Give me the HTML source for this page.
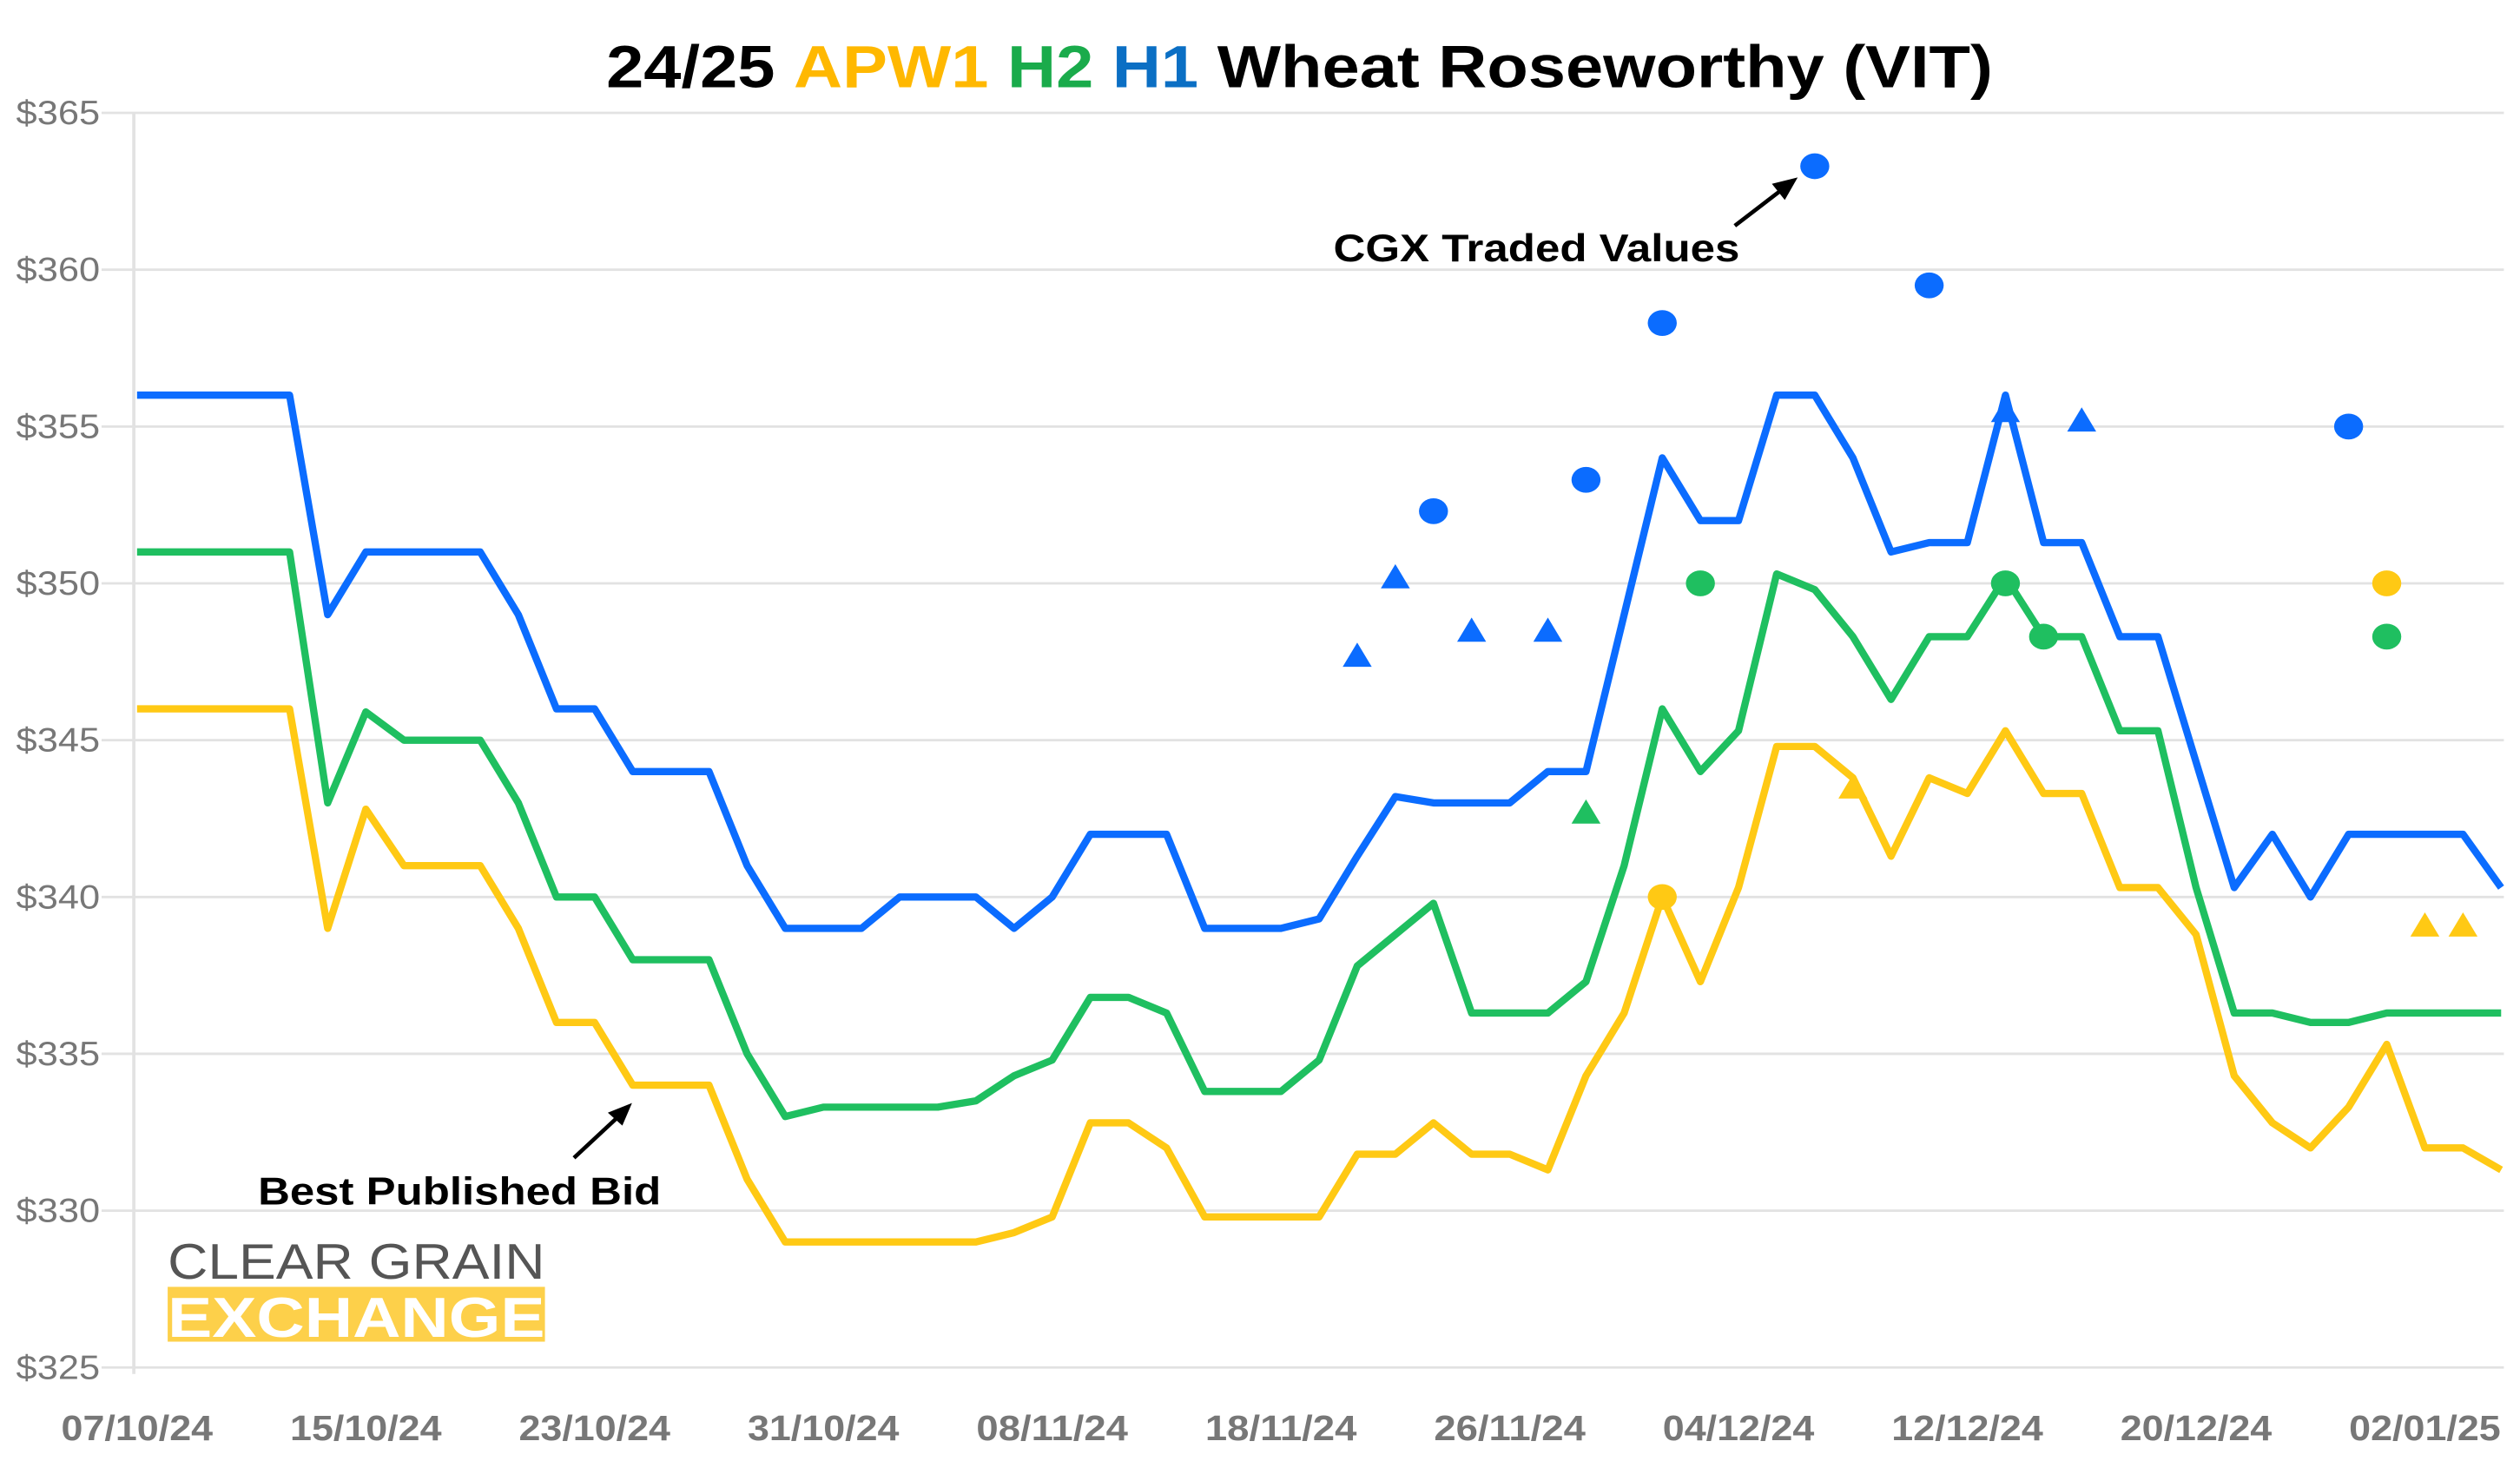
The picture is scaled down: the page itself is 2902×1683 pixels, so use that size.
<!DOCTYPE html>
<html><head><meta charset="utf-8"><style>
html,body{margin:0;padding:0;background:#fff;}
svg{display:block;}
</style></head><body>
<svg id="chart" width="2902" height="1683" viewBox="0 0 1563 906" preserveAspectRatio="none" xmlns="http://www.w3.org/2000/svg" font-family="'Liberation Sans', sans-serif">
<rect x="0" y="0" width="1563" height="906" fill="#fff"/>
<text x="806" y="54" text-anchor="middle" font-size="37" font-weight="bold" fill="#000" textLength="860" lengthAdjust="spacingAndGlyphs">24/25 <tspan fill="#ffb800">APW1</tspan> <tspan fill="#1aab4b">H2</tspan> <tspan fill="#0b6fc4">H1</tspan> Wheat Roseworthy (VIT)</text>
<g id="grid"></g>
<g id="yaxis"></g>
<g id="xaxis"></g>
<g id="series"></g>
<g id="markers"></g>
<g>
<text x="104" y="793" font-size="31" fill="#555" textLength="234" lengthAdjust="spacingAndGlyphs">CLEAR GRAIN</text>
<rect x="104" y="798" width="234" height="34" fill="#fdd04a"/>
<text x="104" y="829" font-size="35" font-weight="bold" fill="#fff" textLength="234" lengthAdjust="spacingAndGlyphs">EXCHANGE</text>
</g>
<g>
<text x="160" y="747" font-size="24" font-weight="bold" fill="#000" textLength="250" lengthAdjust="spacingAndGlyphs">Best Published Bid</text>
<line x1="356" y1="718" x2="384" y2="692" stroke="#000" stroke-width="2.5"/>
<polygon points="392,684 377,690 386,698" fill="#000"/>
</g>
<g>
<text x="827" y="162" font-size="24" font-weight="bold" fill="#000" textLength="252" lengthAdjust="spacingAndGlyphs">CGX Traded Values</text>
<line x1="1076" y1="140" x2="1106" y2="117" stroke="#000" stroke-width="2.5"/>
<polygon points="1115,110 1099,114 1107,124" fill="#000"/>
</g>
</svg>
<script>
const yTicks = [325,330,335,340,345,350,355,360,365];
const xLabels = ["07/10/24","15/10/24","23/10/24","31/10/24","08/11/24","18/11/24","26/11/24","04/12/24","12/12/24","20/12/24","02/01/25"];
const h1 = [356,356,356,356,356,349,351,351,351,351,349,346,346,344,344,344,341,339,339,339,340,340,340,339,340,342,342,342,339,339,339,339.3,341.3,343.2,343,343,343,344,344,349,354,352,352,356,356,354,351,351.3,351.3,356,351.3,351.3,348.3,348.3,344.3,340.3,342,340,342,342,342,342,340.3];
const h2 = [351,351,351,351,351,343,345.9,345,345,345,343,340,340,338,338,338,335,333,333.3,333.3,333.3,333.3,333.5,334.3,334.8,336.8,336.8,336.3,333.8,333.8,333.8,334.8,337.8,338.8,339.8,336.3,336.3,336.3,337.3,341,346,344,345.3,350.3,349.8,348.3,346.3,348.3,348.3,350.2,348.3,348.3,345.3,345.3,340.3,336.3,336.3,336,336,336.3,336.3,336.3,336.3];
const apw1 = [346,346,346,346,346,339,342.8,341,341,341,339,336,336,334,334,334,331,329,329,329,329,329,329,329.3,329.8,332.8,332.8,332,329.8,329.8,329.8,329.8,331.8,331.8,332.8,331.8,331.8,331.3,334.3,336.3,340,337.3,340.3,344.8,344.8,343.8,341.3,343.8,343.3,345.3,343.3,343.3,340.3,340.3,338.8,334.3,332.8,332,333.3,335.3,332,332,331.3];
const h1CircleIdx = [34,38,40,44,47,58];
const h1CircleVal = [352.3,353.3,358.3,363.3,359.5,355];
const h1TriIdx = [32,33,35,37,49,51];
const h1TriVal = [347.7,350.2,348.5,348.5,355.5,355.2];
const h2CircleIdx = [41,49,50,59];
const h2CircleVal = [350,350,348.3,348.3];
const h2TriIdx = [38];
const h2TriVal = [342.7];
const apwCircleIdx = [40,59];
const apwCircleVal = [340,350];
const apwTriIdx = [45,60,61];
const apwTriVal = [343.5,339.1,339.1];

const NS="http://www.w3.org/2000/svg";
const X0=85, DX=23.65, Y365=70, Y325=848, PL=83, PR=1553;
const xs = i => X0 + i*DX;
const ys = v => Y365 + (365-v)*(Y325-Y365)/40;
function mk(tag, attrs, parent){const e=document.createElementNS(NS,tag);for(const k in attrs)e.setAttribute(k,attrs[k]);parent.appendChild(e);return e;}
const grid=document.getElementById('grid'), ya=document.getElementById('yaxis'), xa=document.getElementById('xaxis');
yTicks.forEach(t=>{
  const l=mk('line',{x1:PL-20,x2:PR,y1:ys(t),y2:ys(t),stroke:'#e2e2e2','stroke-width':1.5},grid);
  
  
  const tx=mk('text',{x:62,y:ys(t)+7,'text-anchor':'end','font-size':21,fill:'#777',textLength:52,lengthAdjust:'spacingAndGlyphs'},ya);
  tx.textContent='$'+t;
  
  
});
const ax=mk('line',{x1:PL,x2:PL,y1:Y365,y2:Y325+4,stroke:'#e2e2e2','stroke-width':2},grid);


xLabels.forEach((lab,k)=>{
  const tx=mk('text',{x:xs(k*6),y:893,'text-anchor':'middle','font-size':22,fill:'#777','font-weight':'bold',textLength:94,lengthAdjust:'spacingAndGlyphs'},xa);
  tx.textContent=lab;
  
  
});
const ser=document.getElementById('series');
[[apw1,'#ffc914','apw1-line'],[h2,'#1fbf60','h2-line'],[h1,'#0b6cff','h1-line']].forEach(([d,c,n])=>{
  const p=mk('polyline',{points:d.map((v,i)=>xs(i)+','+ys(v)).join(' '),fill:'none',stroke:c,'stroke-width':4.5,'stroke-linejoin':'round'},ser);
  
  
});
const mg=document.getElementById('markers');
function circles(idx,val,c,n){idx.forEach((i,k)=>{const e=mk('ellipse',{cx:xs(i),cy:ys(val[k]),rx:9,ry:8,fill:c},mg);
  
  });}
function tris(idx,val,c,n){idx.forEach((i,k)=>{const x=xs(i),y=ys(val[k]);const e=mk('polygon',{points:`${x-9},${y+7} ${x+9},${y+7} ${x},${y-8}`,fill:c},mg);
  
  });}
circles(h1CircleIdx,h1CircleVal,'#0b6cff','h1-traded-circle');
tris(h1TriIdx,h1TriVal,'#0b6cff','h1-traded-triangle');
circles(h2CircleIdx,h2CircleVal,'#1fbf60','h2-traded-circle');
tris(h2TriIdx,h2TriVal,'#1fbf60','h2-traded-triangle');
circles(apwCircleIdx,apwCircleVal,'#ffc914','apw1-traded-circle');
tris(apwTriIdx,apwTriVal,'#ffc914','apw1-traded-triangle');
</script>
</body></html>
